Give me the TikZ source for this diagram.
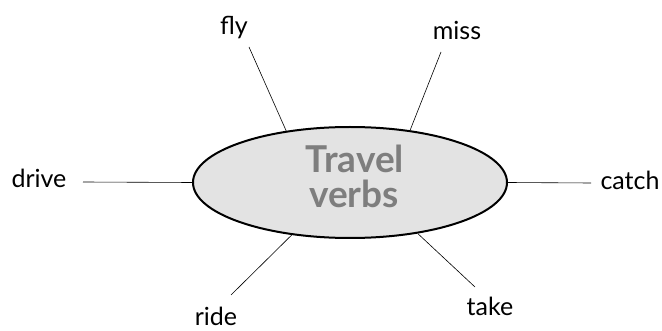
\documentclass[tikz,border=0pt]{standalone}
\usepackage{fontspec}
\setmainfont{Lato}
\usetikzlibrary{shapes.geometric}
\definecolor{ellfill}{HTML}{E3E3E3}
\definecolor{titlegray}{HTML}{7E7E7E}
\tikzset{
  verb/.style={anchor=base, inner sep=0pt, font=\fontsize{25}{30}\selectfont, text=black},
  spoke/.style={draw=black, line width=0.6pt},
  hub/.style={ellipse, draw=black, line width=2pt, fill=ellfill, minimum width=314pt, minimum height=111pt, inner sep=0pt},
  hubtext/.style={anchor=base, inner sep=0pt, font=\fontsize{37}{37}\selectfont\bfseries, text=titlegray}
}
\begin{document}
\begin{tikzpicture}[x=1pt,y=-1pt]
\useasboundingbox (0,0) rectangle (662,331);
% labels
\node[verb] (fly) at (234,35) {fly};
\node[verb] (miss) at (457,40) {miss};
\node[verb] (drive) at (39,188) {drive};
\node[verb] (catch) at (630,190) {catch};
\node[verb] (ride) at (216,326) {ride};
\node[verb] (take) at (490,316) {take};
% hub
\node[hub] (e) at (350,182.5) {};
\node[hubtext] (t1) at (355,173) {Travel};
\node[hubtext] (t2) at (354,208) {verbs};
% free ends of spokes
\coordinate (cfly) at (249,47);
\coordinate (cmiss) at (441,52);
\coordinate (cdrive) at (83,182);
\coordinate (ccatch) at (591,183);
\coordinate (cride) at (231,295);
\coordinate (ctake) at (475,287);
% spokes
\draw[spoke] (cfly) -- (e.141);
\draw[spoke] (cmiss) -- (e.41.7);
\draw[spoke] (cdrive) -- (e.180);
\draw[spoke] (ccatch) -- (e.0);
\draw[spoke] (cride) -- (e.222.7);
\draw[spoke] (ctake) -- (e.323.9);
\end{tikzpicture}
\end{document}
